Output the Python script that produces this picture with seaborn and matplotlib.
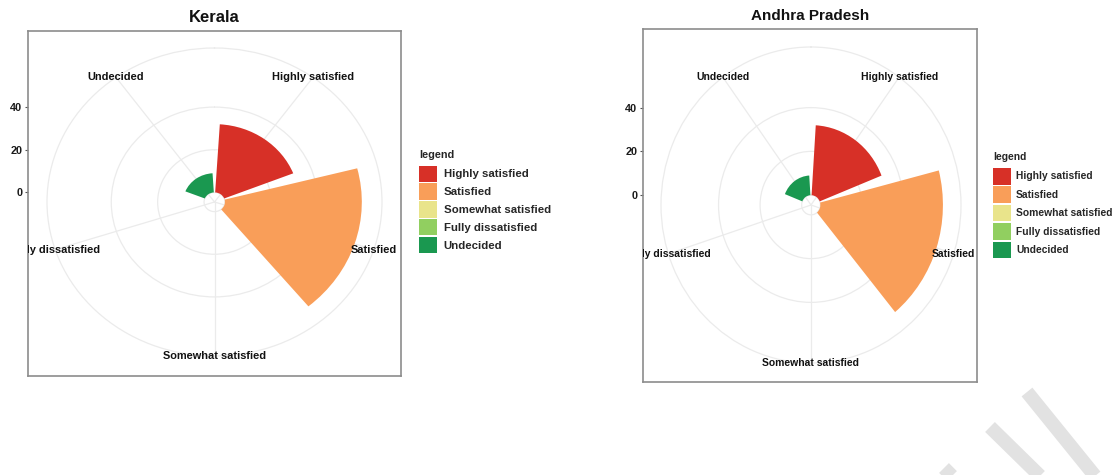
import numpy as np
import pandas as pd
import matplotlib
matplotlib.use("Agg")
import matplotlib.pyplot as plt
from matplotlib.patches import Patch
from matplotlib.lines import Line2D
import seaborn as sns

# ---------------- data ----------------
categories = ["Highly satisfied", "Satisfied", "Somewhat satisfied",
              "Fully dissatisfied", "Undecided"]
kerala_values = [32, 59, 0, 0, 9]
andhra_values = [32, 59, 0, 0, 9]
titles = ["Kerala", "Andhra Pradesh"]
r_ticks = [0, 20, 40]
legend_title = "legend"
colors = ["#D73027", "#F99E59", "#E9E48B", "#91CF60", "#1A9850"]

# ---------------- style ----------------
W, H, DPI = 1112, 475, 100
sns.set_theme(style="white")
plt.rcParams["font.family"] = ["Liberation Sans", "DejaVu Sans"]
plt.rcParams["axes.axisbelow"] = True

fig = plt.figure(figsize=(W / DPI, H / DPI), dpi=DPI)
fig.patch.set_facecolor("white")


def fig_rect(x0, y0, x1, y1):
    return [x0 / W, 1 - y1 / H, (x1 - x0) / W, (y1 - y0) / H]


def handle_height(box_px, fs_pt):
    # matplotlib legend: box = fs*hh - 0.35*fs*(hh-0.7)
    fs = fs_pt * DPI / 72
    return (box_px / fs - 0.245) / 0.65


R_LO, R_OUT = -4.5, 67.7
n = len(categories)
theta_scale = dict(zip(categories, 2 * np.pi * (np.arange(n) + 0.5) / n))
palette = dict(zip(categories, colors))
GRID = "#EBEBEB"

layouts = [
    dict(values=kerala_values, title=titles[0], panel=(28, 31, 401, 376),
         center=(214.5, 202), radii=(167.5, 154), title_size=12,
         label_size=7.9, tick_size=7.8,
         legend=dict(anchor=(419, 150), fs=8.2, title_fs=7.8,
                     box=16.5, pitch=17.8, hl=1.58, htp=0.6, gap=5.5)),
    dict(values=andhra_values, title=titles[1], panel=(643, 29, 977, 382),
         center=(811, 205), radii=(150, 158), title_size=11,
         label_size=7.5, tick_size=7.8,
         legend=dict(anchor=(993, 152), fs=7.4, title_fs=7.4,
                     box=16.5, pitch=18.4, hl=1.75, htp=0.5, gap=6.0)),
]

for lay in layouts:
    px0, py0, px1, py1 = lay["panel"]
    cx, cy = lay["center"]
    rx, ry = lay["radii"]

    # rectangular ggplot-like panel carrying the radial axis
    pax = fig.add_axes(fig_rect(px0, py0, px1, py1), zorder=1)
    span = R_OUT - R_LO
    y_bottom = R_LO - (py1 - cy) / ry * span
    y_top = R_LO + (cy - py0) / ry * span
    pax.set_ylim(y_bottom, y_top)
    pax.set_xlim(0, 1)
    pax.set_xticks([])
    pax.set_yticks(r_ticks)
    pax.set_yticklabels([str(t) for t in r_ticks], fontsize=lay["tick_size"],
                        fontweight="bold", color="#1A1A1A")
    pax.tick_params(axis="y", left=True, length=2.5, width=0.8,
                    color="#555555", pad=1.5)
    pax.set_facecolor("white")
    for sp in pax.spines.values():
        sp.set_color("#8C8C8C")
        sp.set_linewidth(1.2)
    pax.set_title(lay["title"], fontsize=lay["title_size"], fontweight="bold",
                  pad=6.5, color="#111111")

    # polar plot (elliptical to follow the stretched reference)
    ax = fig.add_axes(fig_rect(cx - rx, cy - ry, cx + rx, cy + ry),
                      projection="polar", zorder=2)
    ax.set_aspect("auto")
    ax.patch.set_alpha(0)
    ax.set_theta_zero_location("N")
    ax.set_theta_direction(-1)

    df = pd.DataFrame({"category": categories, "value": lay["values"]})
    df["theta"] = df["category"].map(theta_scale)
    sns.barplot(data=df, x="theta", y="value", hue="category",
                hue_order=categories, palette=palette, native_scale=True,
                width=0.9, errorbar=None, legend=False, linewidth=0,
                saturation=1, ax=ax)

    ax.set_xlim(0, 2 * np.pi)
    ax.set_ylim(R_LO, R_OUT)
    ax.set_xticks(list(theta_scale.values()))
    ax.set_xticklabels([])
    ax.set_yticks(r_ticks)
    ax.set_yticklabels([])
    ax.set_xlabel("")
    ax.set_ylabel("")
    ax.tick_params(length=0)
    ax.grid(True, color=GRID, linewidth=0.9)
    ax.spines["polar"].set_color(GRID)
    ax.spines["polar"].set_linewidth(0.9)

    for cat, th in theta_scale.items():
        t = ax.text(th, R_OUT, cat, ha="center", va="center",
                    fontsize=lay["label_size"], fontweight="bold",
                    color="#111111", clip_on=True)
        t.set_clip_path(pax.patch)

    lg = lay["legend"]
    fs_px = lg["fs"] * DPI / 72
    handles = [Patch(facecolor=palette[c], edgecolor="none", label=c)
               for c in categories]
    leg = fig.legend(handles=handles, labels=categories, loc="upper left",
                     bbox_to_anchor=(lg["anchor"][0] / W,
                                     1 - lg["anchor"][1] / H),
                     bbox_transform=fig.transFigure, frameon=False,
                     title=legend_title, alignment="left",
                     prop=dict(weight="bold", size=lg["fs"]),
                     title_fontproperties=dict(weight="bold",
                                               size=lg["title_fs"]),
                     handlelength=lg["hl"],
                     handleheight=handle_height(lg["box"], lg["fs"]),
                     labelspacing=(lg["pitch"] - lg["box"]) / fs_px,
                     handletextpad=lg["htp"],
                     borderpad=0, borderaxespad=0)
    # wider gap between the legend title and its keys
    leg._legend_box.sep = lg["gap"] * 72 / DPI

# faint watermark strokes in the lower right corner
for (x0, y0, x1, y1) in [(1027, 392, 1095, 476), (990, 427, 1040, 476),
                         (944, 468, 952, 476)]:
    fig.add_artist(Line2D([x0 / W, x1 / W], [1 - y0 / H, 1 - y1 / H],
                          transform=fig.transFigure, color="#E2E2E2",
                          linewidth=10, solid_capstyle="butt", zorder=0))

fig.savefig("out.png", dpi=DPI, facecolor="white")
